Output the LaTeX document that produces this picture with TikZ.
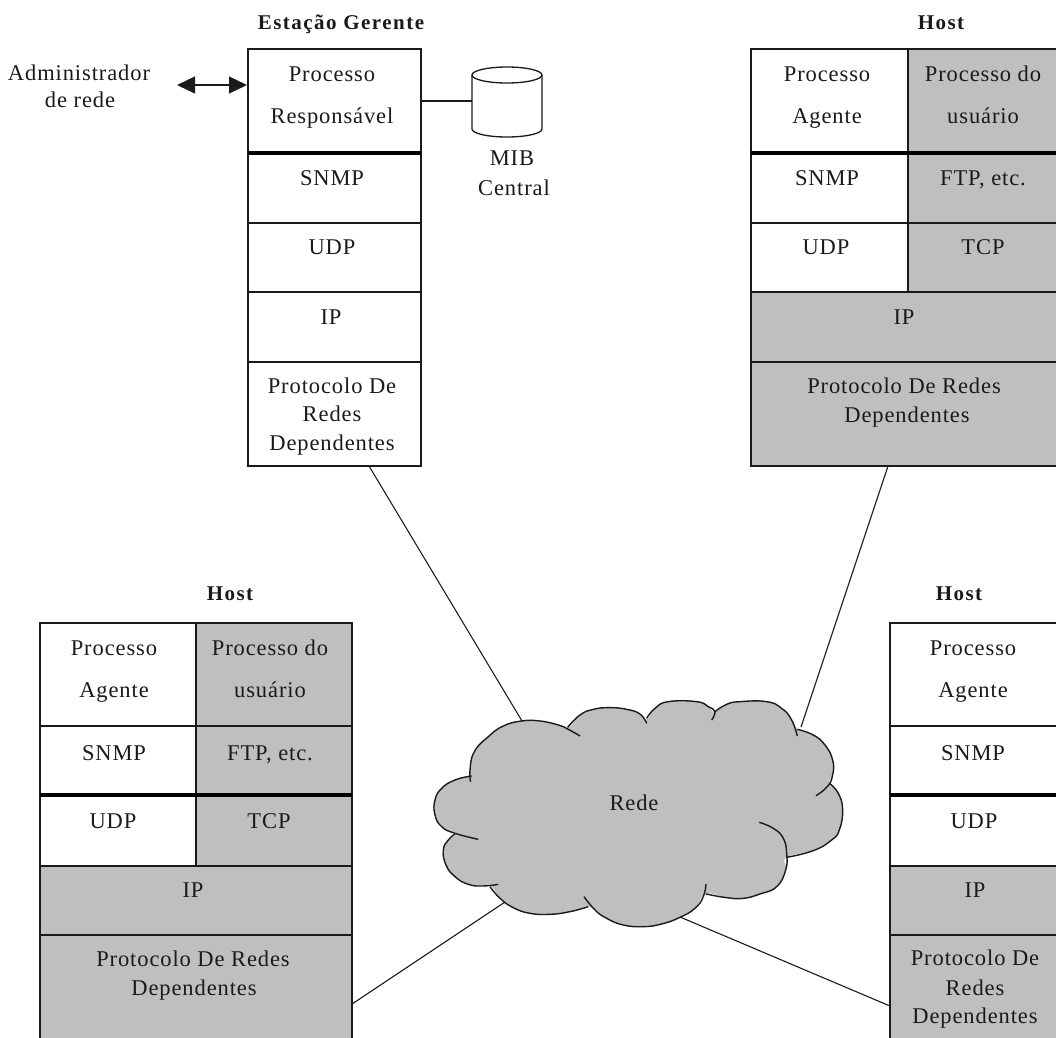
\documentclass[tikz,border=0pt]{standalone}
\usepackage{fontspec}
\setmainfont[LetterSpace=4]{Liberation Serif}
\newfontfamily\titlefont[LetterSpace=7]{Liberation Serif}
\usetikzlibrary{arrows.meta}
\definecolor{cinza}{HTML}{BFBFBF}
\definecolor{tinta}{HTML}{1A1A1A}
\tikzset{
  every node/.style={inner sep=0pt,outer sep=0pt,text=tinta},
  cellbox/.style={draw=tinta,line width=1.3pt,rectangle},
  plain/.style={cellbox,fill=white},
  shaded/.style={cellbox,fill=cinza},
  txt/.style={anchor=base,font=\fontsize{22.5}{24}\selectfont},
  ttl/.style={anchor=base,font=\fontsize{21}{24}\titlefont\bfseries},
  wire/.style={draw=tinta,line width=1.1pt},
  heavy/.style={draw=black,line width=3.6pt},
  lobe/.style={draw=tinta,line width=1.4pt},
  round/.style={smooth,tension=0.8},
}
% \cellat{name}{x0}{y0}{x1}{y1}{style}
\newcommand{\cellat}[6]{\node[#6,minimum width={(#4-#2)*1pt},minimum height={(#5-#3)*1pt}] (#1) at ({(#2+#4)/2},{(#3+#5)/2}) {};}
% \lbl{name}{x}{y-centre}{text}
\newcommand{\lbl}[4]{\node[txt] (#1) at (#2,{#3+7.5}) {#4};}
\newcommand{\ttlat}[4]{\node[ttl] (#1) at (#2,{#3+7}) {#4};}
\begin{document}
\begin{tikzpicture}[x=1pt,y=-1pt]
\useasboundingbox (0,0) rectangle (1056,1037);
\clip (0,0) rectangle (1056,1037);
\fill[white] (0,0) rectangle (1056,1037);

% ---------- Estacao Gerente ----------
\cellat{mA}{248}{49}{421}{153}{plain}
\cellat{mB}{248}{153}{421}{223}{plain}
\cellat{mC}{248}{223}{421}{292}{plain}
\cellat{mD}{248}{292}{421}{362}{plain}
\cellat{mE}{248}{362}{421}{466}{plain}
\draw[heavy] (mA.south west) -- (mA.south east);
\ttlat{tGer}{341}{22}{Estação Gerente}
\lbl{m1}{332}{74}{Processo}
\lbl{m2}{332}{116}{Responsável}
\lbl{m3}{332}{178}{SNMP}
\lbl{m4}{332}{247}{UDP}
\lbl{m5}{331}{317}{IP}
\lbl{m6}{332}{386}{Protocolo De}
\lbl{m7}{332}{414}{Redes}
\lbl{m8}{332}{443}{Dependentes}
\lbl{adm1}{79}{73}{Administrador}
\lbl{adm2}{80}{100}{de rede}
\coordinate (admEnd) at (177,85);
\coordinate (procEnd) at (247,85);
\draw[wire,{Triangle[length=18pt,width=17pt]}-{Triangle[length=18pt,width=17pt]}] (admEnd) -- (procEnd);

% MIB
\node[minimum width=70pt,minimum height=70pt] (mib) at (507,101) {};
\draw[draw=tinta,line width=1.3pt,fill=white] (472,75) -- (472,129) arc[start angle=180,end angle=360,x radius=35,y radius=-8] -- (542,75) arc[start angle=0,end angle=180,x radius=35,y radius=-8] -- cycle;
\draw[draw=tinta,line width=1.3pt] (472,75) arc[start angle=180,end angle=360,x radius=35,y radius=-8];
\draw[wire] (mA.east) -- (mib.west);
\lbl{mib1}{512}{158}{MIB}
\lbl{mib2}{514}{188}{Central}

% ---------- Host superior direito ----------
\cellat{aA}{751}{49}{908}{153}{plain}
\cellat{aB}{751}{153}{908}{223}{plain}
\cellat{aC}{751}{223}{908}{292}{plain}
\cellat{aD}{908}{49}{1066}{153}{shaded}
\cellat{aE}{908}{153}{1066}{223}{shaded}
\cellat{aF}{908}{223}{1066}{292}{shaded}
\cellat{aG}{751}{292}{1066}{362}{shaded}
\cellat{aH}{751}{362}{1066}{466}{shaded}
\draw[heavy] (aA.south west) -- (aD.south east);
\ttlat{tA}{941}{22}{Host}
\lbl{a1}{827}{74}{Processo}
\lbl{a2}{827}{116}{Agente}
\lbl{a3}{983}{74}{Processo do}
\lbl{a4}{983}{116}{usuário}
\lbl{a5}{827}{178}{SNMP}
\lbl{a6}{983}{178}{FTP, etc.}
\lbl{a7}{826}{247}{UDP}
\lbl{a8}{983}{247}{TCP}
\lbl{a9}{904}{317}{IP}
\lbl{a10}{904}{386}{Protocolo De Redes}
\lbl{a11}{907}{415}{Dependentes}

% ---------- Host inferior esquerdo ----------
\cellat{bA}{40}{623}{196}{726}{plain}
\cellat{bB}{40}{726}{196}{795}{plain}
\cellat{bC}{40}{795}{196}{866}{plain}
\cellat{bD}{196}{623}{352}{726}{shaded}
\cellat{bE}{196}{726}{352}{795}{shaded}
\cellat{bF}{196}{795}{352}{866}{shaded}
\cellat{bG}{40}{866}{352}{935}{shaded}
\cellat{bH}{40}{935}{352}{1050}{shaded}
\draw[heavy] (bB.south west) -- (bE.south east);
\ttlat{tB}{230}{593}{Host}
\lbl{b1}{114}{648}{Processo}
\lbl{b2}{114}{690}{Agente}
\lbl{b3}{270}{648}{Processo do}
\lbl{b4}{270}{690}{usuário}
\lbl{b5}{114}{753}{SNMP}
\lbl{b6}{270}{753}{FTP, etc.}
\lbl{b7}{113}{821}{UDP}
\lbl{b8}{269}{821}{TCP}
\lbl{b9}{193}{890}{IP}
\lbl{b10}{193}{959}{Protocolo De Redes}
\lbl{b11}{194}{988}{Dependentes}

% ---------- Host inferior direito ----------
\cellat{cA}{890}{623}{1066}{726}{plain}
\cellat{cB}{890}{726}{1066}{795}{plain}
\cellat{cC}{890}{795}{1066}{866}{plain}
\cellat{cD}{890}{866}{1066}{935}{shaded}
\cellat{cE}{890}{935}{1066}{1050}{shaded}
\draw[heavy] (cB.south west) -- (cB.south east);
\ttlat{tC}{959}{593}{Host}
\lbl{c1}{973}{648}{Processo}
\lbl{c2}{973}{690}{Agente}
\lbl{c3}{973}{753}{SNMP}
\lbl{c4}{974}{821}{UDP}
\lbl{c5}{975}{890}{IP}
\lbl{c6}{975}{958}{Protocolo De}
\lbl{c7}{975}{988}{Redes}
\lbl{c8}{975}{1016}{Dependentes}

% ---------- Nuvem (coordenadas em escala 3x) ----------
\begin{scope}[shift={(420pt,-640pt)},x=0.3333pt,y=-0.3333pt]
\fill[cinza] plot[round] coordinates {
 (152,425)(150,390)(163,335)(205,290)(250,258)(305,243)(360,243)(415,255)(445,262)
 (480,225)(520,208)(570,203)(620,208)(660,222)(680,238)
 (705,205)(745,185)(830,185)(865,200)(885,215)
 (920,193)(960,185)(1040,185)(1085,205)(1115,240)(1132,268)
 (1180,285)(1215,315)(1238,360)(1238,405)(1228,430)
 (1255,460)(1268,510)(1258,570)(1235,600)(1180,632)(1100,652)
 (1097,690)(1070,740)(1020,762)(970,775)(920,773)(858,762)
 (825,805)(780,832)(725,852)(670,860)(610,855)(560,835)(525,810)(505,800)
 (450,815)(390,823)(330,820)(280,803)(240,775)(215,740)
 (190,738)(145,733)(105,710)(78,675)(70,630)(85,600)(105,582)
 (65,560)(45,525)(45,480)(65,445)(105,420)(152,408)} -- cycle;
\draw[lobe] plot[round] coordinates {(152,425)(150,390)(163,335)(205,290)(250,258)(305,243)(360,243)(415,255)(445,268)(480,288)};
\draw[lobe] plot[round] coordinates {(443,262)(480,225)(520,208)(570,203)(620,208)(660,222)(680,250)};
\draw[lobe] plot[round] coordinates {(680,235)(705,205)(745,185)(830,185)(865,200)(885,215)(875,240)};
\draw[lobe] plot[round] coordinates {(885,215)(920,193)(960,185)(1040,185)(1085,205)(1115,240)(1132,288)};
\draw[lobe] plot[round] coordinates {(1132,268)(1180,285)(1215,315)(1238,360)(1238,405)(1222,440)(1188,467)};
\draw[lobe] plot[round] coordinates {(1228,430)(1255,460)(1268,510)(1258,570)(1235,600)(1180,632)(1100,652)};
\draw[lobe] plot[round] coordinates {(1018,547)(1060,565)(1090,595)(1100,640)(1097,690)(1070,740)(1020,762)(970,775)(920,773)(858,762)};
\draw[lobe] plot[round] coordinates {(858,732)(850,770)(825,805)(780,832)(725,852)(670,860)(610,855)(560,835)(525,810)(492,770)};
\draw[lobe] plot[round] coordinates {(505,800)(450,815)(390,823)(330,820)(280,803)(240,775)(210,740)};
\draw[lobe] plot[round] coordinates {(235,733)(190,738)(145,733)(105,710)(78,675)(70,630)(85,600)(105,582)};
\draw[lobe] plot[round] coordinates {(175,598)(105,580)(65,560)(45,525)(45,480)(65,445)(105,420)(155,408)};
\end{scope}
\lbl{rede}{634}{803}{Rede}

% ---------- Ligacoes ----------
\coordinate (redeNW) at (522,721);
\coordinate (redeNE) at (801,727);
\coordinate (redeSW) at (505,902);
\coordinate (redeSE) at (680,917);
\coordinate (mOut) at (369,466);
\coordinate (aOut) at (888,466);
\coordinate (bOut) at (352,1004);
\coordinate (cOut) at (890,1006);
\draw[wire] (mOut) -- (redeNW);
\draw[wire] (aOut) -- (redeNE);
\draw[wire] (bOut) -- (redeSW);
\draw[wire] (cOut) -- (redeSE);
\end{tikzpicture}
\end{document}
